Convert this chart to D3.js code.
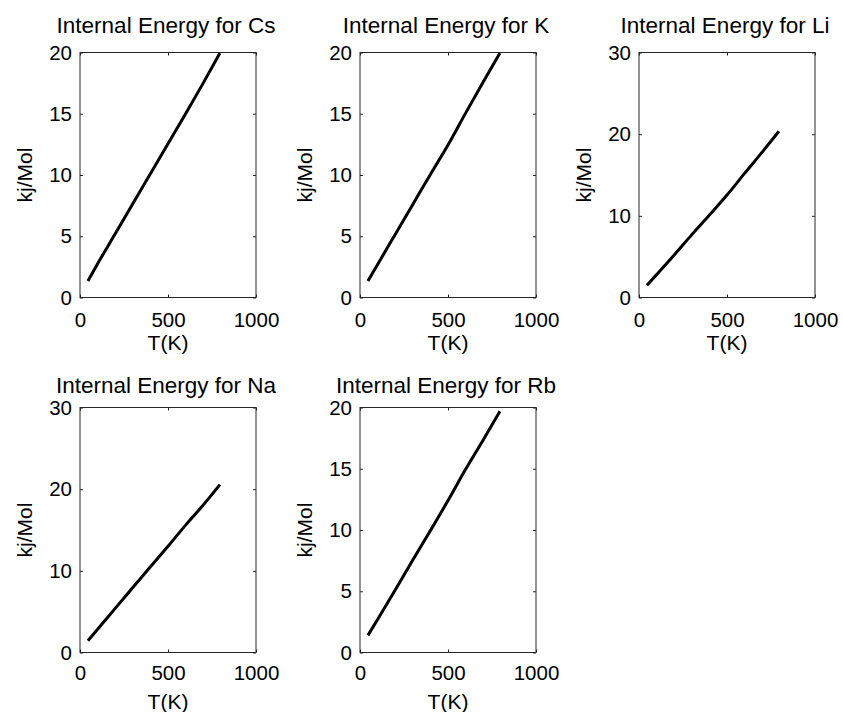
<!DOCTYPE html>
<html>
<head>
<meta charset="utf-8">
<script src="https://cdn.jsdelivr.net/npm/d3@7"></script>
<style>
  html, body { margin: 0; padding: 0; background: #fff; }
  svg { display: block; }
  text { font-family: "Liberation Sans", Arial, sans-serif; fill: #000; }
</style>
</head>
<body>
<svg id="chart" width="843" height="712"></svg>
<script>
// ---- data ----
const elements = ["Cs", "K", "Li", "Na", "Rb"];
const temperatureK = [45, 100, 200, 300, 400, 500, 600, 700, 795];
const energyCs = [1.35, 2.75, 5.2, 7.65, 10.1, 12.55, 15.0, 17.5, 19.95];
const energyK  = [1.35, 2.7, 5.15, 7.6, 10.05, 12.45, 15.05, 17.6, 19.95];
const energyLi = [1.5, 2.8, 5.2, 7.7, 10.1, 12.55, 15.2, 17.8, 20.35];
const energyNa = [1.45, 2.85, 5.4, 7.95, 10.5, 13.0, 15.6, 18.05, 20.55];
const energyRb = [1.4, 2.7, 5.1, 7.55, 9.95, 12.4, 14.95, 17.35, 19.7];
const yMaxes = [20, 20, 30, 30, 20];
const xTicks = [0, 500, 1000];
const yTicks20 = [0, 5, 10, 15, 20];
const yTicks30 = [0, 10, 20, 30];
const titlePrefix = "Internal Energy for ";
const xLabel = "T(K)";
const yLabel = "kj/Mol";

const series = [energyCs, energyK, energyLi, energyNa, energyRb];

// ---- layout ----
const colLeft = [80, 360, 639];
const rowTop = [52.5, 407.5];
const plotW = 176, plotH = 245;
const rowTitleGap = [20, 15];
const rowTickPad = [15, 13];
const rowXLabelBase = [350, 709];

const svg = d3.select("#chart");
const axisColor = "#262626";

elements.forEach((el, i) => {
  const r = Math.floor(i / 3), c = i % 3;
  const left = colLeft[c], top = rowTop[r];
  const g = svg.append("g").attr("transform", `translate(${left},${top})`);

  const x = d3.scaleLinear().domain([0, 1000]).range([0, plotW]);
  const y = d3.scaleLinear().domain([0, yMaxes[i]]).range([plotH, 0]);
  const yt = yMaxes[i] === 20 ? yTicks20 : yTicks30;

  // box
  g.append("rect").attr("x", 0).attr("y", 0).attr("width", plotW).attr("height", plotH)
    .attr("fill", "#fff").attr("stroke", axisColor).attr("stroke-width", 1);

  const fs = 20.5;
  const style = (sel) => {
    sel.select(".domain").remove();
    sel.selectAll(".tick line").attr("stroke", axisColor);
    sel.selectAll(".tick text").attr("fill", "#000").style("font-size", fs + "px")
      .style("font-family", '"Liberation Sans", Arial, sans-serif');
  };

  g.append("g").attr("transform", `translate(0,${plotH})`)
    .call(d3.axisBottom(x).tickValues(xTicks).tickSize(-3).tickPadding(rowTickPad[r]).tickFormat(d3.format("d")))
    .call(style);
  g.append("g")
    .call(d3.axisTop(x).tickValues(xTicks).tickSize(-3).tickFormat(""))
    .call(style);
  g.append("g")
    .call(d3.axisLeft(y).tickValues(yt).tickSize(-3).tickPadding(8).tickFormat(d3.format("d")))
    .call(style);
  g.append("g").attr("transform", `translate(${plotW},0)`)
    .call(d3.axisRight(y).tickValues(yt).tickSize(-3).tickFormat(""))
    .call(style);

  // line
  const data = temperatureK.map((t, k) => [t, series[i][k]]);
  g.append("path").datum(data)
    .attr("fill", "none").attr("stroke", "#000").attr("stroke-width", 3)
    .attr("stroke-linejoin", "round")
    .attr("d", d3.line().curve(d3.curveMonotoneX).x(d => x(d[0])).y(d => y(d[1])));

  // title
  g.append("text").attr("x", plotW / 2 - 2).attr("y", -rowTitleGap[r])
    .attr("text-anchor", "middle").style("font-size", "22.5px")
    .text(titlePrefix + el);

  // x label
  g.append("text").attr("x", plotW / 2).attr("y", rowXLabelBase[r] - top)
    .attr("text-anchor", "middle").style("font-size", "21px")
    .text(xLabel);

  // y label
  g.append("text").attr("transform", `translate(-48,${plotH / 2}) rotate(-90)`)
    .attr("text-anchor", "middle").style("font-size", "21px")
    .text(yLabel);
});
</script>
</body>
</html>
